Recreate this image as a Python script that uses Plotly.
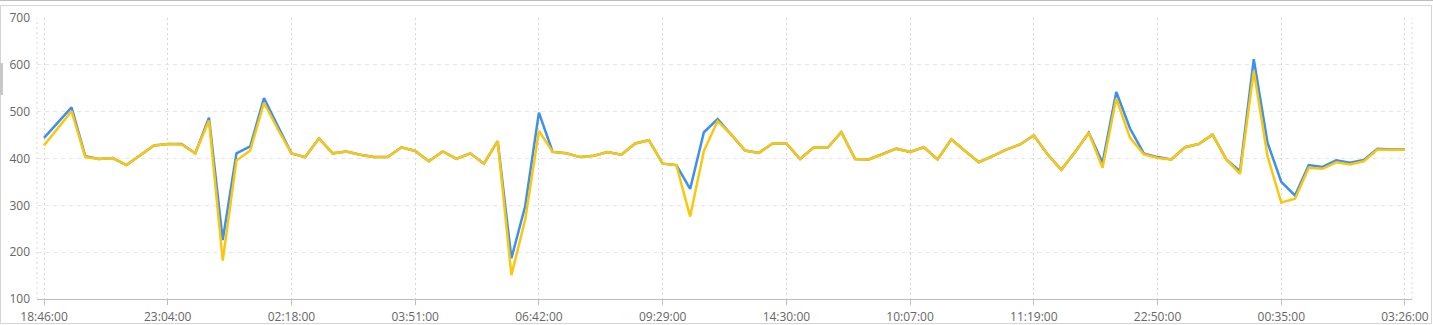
import plotly.graph_objects as go

tick_labels = ["18:46:00", "23:04:00", "02:18:00", "03:51:00", "06:42:00", "09:29:00",
               "14:30:00", "10:07:00", "11:19:00", "22:50:00", "00:35:00", "03:26:00"]

series_blue = [444, 476, 509, 405, 399, 401, 386, 407, 428, 431,
               431, 411, 487, 226, 411, 426, 529, 470, 411, 403,
               443, 411, 415, 408, 403, 403, 424, 416, 394, 415,
               399, 411, 389, 437, 187, 298, 498, 414, 411, 403,
               406, 414, 408, 432, 439, 389, 386, 335, 456, 484,
               451, 417, 412, 432, 432, 399, 424, 423, 456, 399,
               398, 409, 421, 414, 424, 398, 441, 416, 392, 405,
               419, 430, 449, 409, 376, 414, 455, 391, 542, 464,
               411, 403, 398, 424, 431, 451, 398, 373, 612, 434,
               350, 321, 386, 382, 396, 391, 397, 421, 419, 420]

series_yellow = [428, 465, 501, 403, 399, 401, 386, 407, 428, 431,
                 430, 411, 481, 182, 396, 417, 519, 463, 411, 403,
                 443, 411, 415, 408, 403, 403, 424, 416, 394, 415,
                 399, 411, 389, 437, 151, 269, 459, 414, 411, 403,
                 406, 414, 408, 432, 439, 389, 386, 276, 416, 480,
                 451, 417, 412, 432, 432, 399, 424, 423, 456, 399,
                 398, 409, 421, 414, 424, 398, 441, 416, 392, 405,
                 419, 430, 449, 409, 376, 414, 455, 380, 528, 444,
                 409, 401, 398, 424, 431, 451, 398, 367, 587, 405,
                 306, 314, 380, 378, 392, 387, 394, 419, 418, 419]

n = len(series_blue)
x_idx = list(range(n))
label_step = (n - 1) // (len(tick_labels) - 1)
tick_pos = list(range(0, n, label_step))

BLUE = "#3d8ff0"
YELLOW = "#f9c80e"

fig = go.Figure()
fig.add_trace(go.Scatter(x=x_idx, y=series_blue, mode="lines",
                         line=dict(color=BLUE, width=2.5), showlegend=False))
fig.add_trace(go.Scatter(x=x_idx, y=series_yellow, mode="lines",
                         line=dict(color=YELLOW, width=2.5), showlegend=False))

W, H = 1433, 325
ml, mr, mt, mb = 37, 21, 18, 26
pw, ph = W - ml - mr, H - mt - mb

def px_x(p):
    return (p - ml) / pw

def px_y(p):
    return (H - mb - p) / ph

shapes = [
    dict(type="line", xref="paper", yref="paper", x0=0, x1=0, y0=0, y1=1,
         line=dict(color="#d9d9d9", width=1, dash="2px,3px")),
    dict(type="line", xref="paper", yref="paper", x0=1, x1=1, y0=0, y1=1,
         line=dict(color="#d9d9d9", width=1, dash="2px,3px")),
    dict(type="rect", xref="paper", yref="paper",
         x0=px_x(0.5), x1=px_x(1431.5), y0=px_y(323.5), y1=px_y(5.5),
         line=dict(color="#d4d4d4", width=1), layer="below"),
    dict(type="line", xref="paper", yref="paper",
         x0=px_x(0), x1=px_x(W), y0=px_y(0.5), y1=px_y(0.5),
         line=dict(color="#bdbdbd", width=1)),
    dict(type="rect", xref="paper", yref="paper",
         x0=px_x(0), x1=px_x(3), y0=px_y(95), y1=px_y(63),
         line=dict(width=0), fillcolor="#c8c8c8"),
]

fig.update_layout(
    width=W, height=H,
    margin=dict(l=ml, r=mr, t=mt, b=mb, pad=0, autoexpand=False),
    paper_bgcolor="white", plot_bgcolor="white",
    font=dict(family="Open Sans, Noto Sans, sans-serif", size=12, color="#666666"),
    shapes=shapes,
    xaxis=dict(
        range=[-0.51, n - 1 + 0.51], automargin=False,
        tickmode="array", tickvals=tick_pos, ticktext=tick_labels,
        showgrid=True, gridcolor="#d6d6d6", griddash="2px,3px", gridwidth=1,
        showline=True, linecolor="#bdbdbd", linewidth=1,
        ticks="outside", ticklen=5, tickcolor="#bdbdbd",
        zeroline=False, fixedrange=True, ticklabelstandoff=2,
        tickfont=dict(size=12, color="#666666"),
    ),
    yaxis=dict(
        range=[100, 700], automargin=False,
        tickmode="array", tickvals=[100, 200, 300, 400, 500, 600, 700],
        showgrid=True, gridcolor="#e6e6e6", griddash="4px,4px", gridwidth=1,
        showline=False, zeroline=False, ticks="", fixedrange=True,
        ticklabelstandoff=6,
        tickfont=dict(size=12, color="#666666"),
    ),
)

fig.write_html("out.html")
